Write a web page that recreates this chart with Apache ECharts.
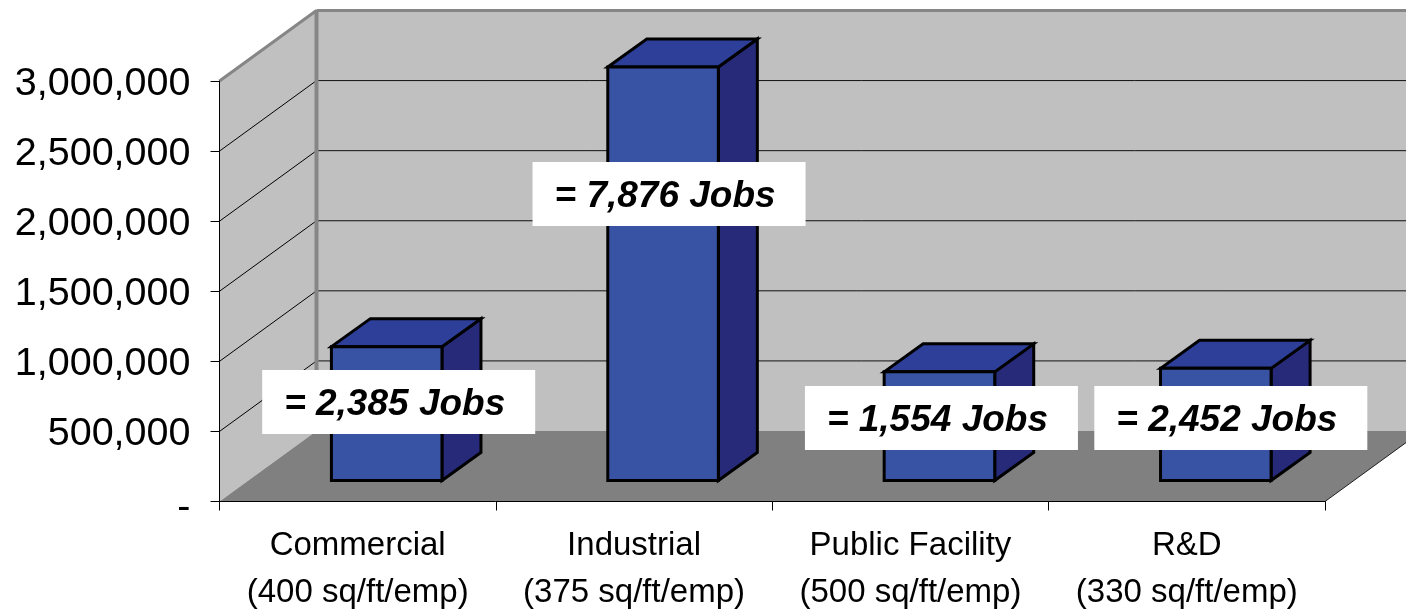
<!DOCTYPE html>
<html>
<head>
<meta charset="utf-8">
<style>
  html, body { margin: 0; padding: 0; background: #fff; }
  #myEchart { width: 1406px; height: 609px; }
</style>
<script src="https://cdn.jsdelivr.net/npm/echarts@6/dist/echarts.min.js"></script>
</head>
<body>
<div id="myEchart"></div>
<script>
// data
const categories = [
  "Commercial\n(400 sq/ft/emp)",
  "Industrial\n(375 sq/ft/emp)",
  "Public Facility\n(500 sq/ft/emp)",
  "R&D\n(330 sq/ft/emp)"
];
const squareFeet = [955000, 2950000, 775000, 800000];
const jobLabels = ["= 2,385 Jobs", "= 7,876 Jobs", "= 1,554 Jobs", "= 2,452 Jobs"];
const yTicks = [0, 500000, 1000000, 1500000, 2000000, 2500000, 3000000];

// 3d look, in pixels
const wallDepth = [97, -70.5];   // front plane -> back wall
const barFront = [29, -21];      // front plane -> front of a bar
const barDepth = [39, -28];      // front of a bar -> back of a bar
const labelBox = { width: 273, height: 64 };
// label centre relative to the category centre on the axis, and y in pixels
const labelAnchor = [[41, 402], [35, 194], [31, 418], [44, 418]];

const chart = echarts.init(document.getElementById("myEchart"));

function poly(points, fill, stroke, lineWidth) {
  return {
    type: "polygon",
    shape: { points: points },
    style: { fill: fill, stroke: stroke || null, lineWidth: lineWidth || 0, lineJoin: "miter" }
  };
}
function line(a, b, color, width) {
  return {
    type: "line",
    shape: { x1: a[0], y1: a[1], x2: b[0], y2: b[1] },
    style: { stroke: color, lineWidth: width }
  };
}
function back(p) {
  return [p[0] + wallDepth[0], p[1] + wallDepth[1]];
}

// walls, floor and the gridlines that run around them
function renderScene(params, api) {
  const o = api.coord([0, 0]);
  const t = api.coord([0, 3000000]);
  const left = params.coordSys.x;
  const right = left + params.coordSys.width;
  const bottom = o[1];
  const top = t[1];
  const children = [
    poly([[left, top], back([left, top]), back([left, bottom]), [left, bottom]], "#c0c0c0"),
    poly([back([left, top]), back([right, top]), back([right, bottom]), back([left, bottom])], "#c0c0c0"),
    poly([[left, bottom], back([left, bottom]), back([right, bottom]), [right, bottom]], "#808080")
  ];
  yTicks.forEach(v => {
    if (v === 0 || v === 3000000) return;
    const y = api.coord([0, v])[1];
    children.push(line([left, y], back([left, y]), "#000", 1));
  });
  yTicks.forEach(v => {
    if (v === 0) return;
    const y = api.coord([0, v])[1];
    children.push(line(back([left, y]), back([right, y]), "#111", 1));
  });
  children.push(line([right, bottom], back([right, bottom]), "#222", 1));
  children.push(line([left, top], back([left, top]), "#868686", 3));
  children.push(line(back([left, top]), back([right, top]), "#868686", 3));
  children.push(line(back([left, top]), back([left, bottom]), "#868686", 4));
  return { type: "group", children: children };
}

function renderBar(params, api) {
  const i = api.value(0);
  const base = api.coord([i, 0]);
  const top = api.coord([i, api.value(1)]);
  const w = api.size([1, 0])[0] * 0.4;
  const x0 = base[0] - w / 2 + barFront[0];
  const x1 = x0 + w;
  const y0 = top[1] + barFront[1];
  const y1 = base[1] + barFront[1];
  const dx = barDepth[0], dy = barDepth[1];
  const edge = "#000";
  return {
    type: "group",
    children: [
      poly([[x1, y0], [x1 + dx, y0 + dy], [x1 + dx, y1 + dy], [x1, y1]], "#262a78", edge, 3),
      poly([[x0, y0], [x0 + dx, y0 + dy], [x1 + dx, y0 + dy], [x1, y0]], "#2d3f99", edge, 3),
      poly([[x0, y0], [x1, y0], [x1, y1], [x0, y1]], "#3953a4", edge, 3)
    ]
  };
}

function renderLabel(params, api) {
  const i = api.value(0);
  const cx = api.coord([i, 0])[0] + labelAnchor[i][0];
  const cy = labelAnchor[i][1];
  return {
    type: "group",
    children: [
      {
        type: "rect",
        shape: { x: cx - labelBox.width / 2, y: cy - labelBox.height / 2, width: labelBox.width, height: labelBox.height },
        style: { fill: "#fff" }
      },
      {
        type: "text",
        style: {
          x: cx - 4, y: cy + 3, text: jobLabels[i], fill: "#000",
          align: "center", verticalAlign: "middle",
          font: "italic bold 37px 'Liberation Sans'"
        }
      }
    ]
  };
}

const option = {
  animation: false,
  backgroundColor: "#fff",
  textStyle: { fontFamily: "Liberation Sans" },
  grid: { left: 219.5, top: 81, width: 1105.5, height: 420.5, outerBoundsMode: "none" },
  xAxis: {
    type: "category",
    data: categories,
    z: 3,
    axisLine: { show: true, lineStyle: { color: "#000", width: 1 } },
    axisTick: { show: true, alignWithLabel: false, length: 9, lineStyle: { color: "#000" } },
    axisLabel: { color: "#000", fontSize: 33, lineHeight: 47, margin: 21, interval: 0 }
  },
  yAxis: {
    type: "value",
    min: 0,
    max: 3000000,
    interval: 500000,
    z: 3,
    splitLine: { show: false },
    axisLine: { show: true, lineStyle: { color: "#000", width: 1 } },
    axisTick: { show: true, length: 9, lineStyle: { color: "#000" } },
    axisLabel: {
      color: "#000",
      margin: 29,
      formatter: v => (v === 0 ? "{zero|-}" : "{num|" + v.toLocaleString("en-US") + "}"),
      rich: {
        num: { fontSize: 39.5, color: "#000", padding: [6, 0, 0, 0] },
        zero: { fontSize: 39.5, color: "#000", padding: [14, 0, 0, 0] }
      }
    }
  },
  series: [
    { type: "custom", z: 1, silent: true, renderItem: renderScene, data: [[0]] },
    {
      type: "custom", z: 4, silent: true, renderItem: renderBar,
      encode: { x: 0, y: 1 },
      data: squareFeet.map((v, i) => [i, v])
    },
    {
      type: "custom", z: 5, silent: true, renderItem: renderLabel,
      data: jobLabels.map((v, i) => [i])
    }
  ]
};
chart.setOption(option);
</script>
</body>
</html>
